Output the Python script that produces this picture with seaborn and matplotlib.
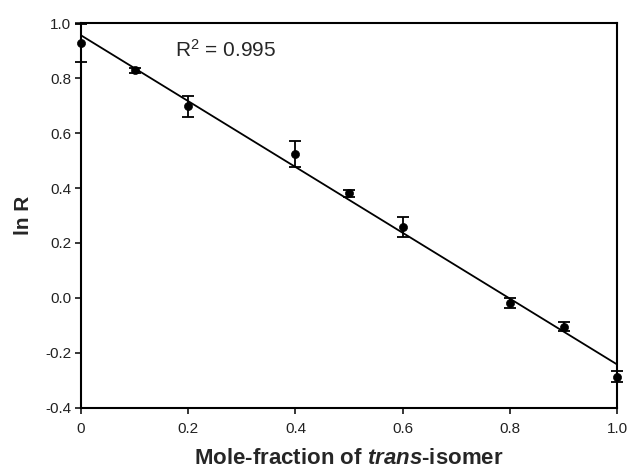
import numpy as np
import pandas as pd
import matplotlib
matplotlib.use("Agg")
import matplotlib.pyplot as plt
import seaborn as sns

# mole fraction of trans-isomer and measured ln R with error
mole_frac = [0.0, 0.1, 0.2, 0.4, 0.5, 0.6, 0.8, 0.9, 1.0]
ln_r = [0.928, 0.828, 0.698, 0.524, 0.381, 0.259, -0.018, -0.104, -0.286]
ln_r_err = [0.070, 0.010, 0.038, 0.047, 0.013, 0.037, 0.018, 0.017, 0.020]
x_ticks = [0, 0.2, 0.4, 0.6, 0.8, 1.0]
x_tick_labels = ["0", "0.2", "0.4", "0.6", "0.8", "1.0"]
y_ticks = [-0.4, -0.2, 0.0, 0.2, 0.4, 0.6, 0.8, 1.0]
r2_text = "R$^2$ = 0.995"


def draw():
    df = pd.DataFrame({"x": mole_frac, "y": ln_r, "err": ln_r_err})

    fig = plt.figure(figsize=(6.33, 4.70), dpi=100)
    ax = fig.add_axes([0.128, 0.132, 0.847, 0.819])

    sns.regplot(data=df, x="x", y="y", ci=None, scatter=False, ax=ax,
                line_kws={"color": "black", "lw": 1.3})
    eb = ax.errorbar(df["x"], df["y"], yerr=df["err"], fmt="none", ecolor="black",
                     elinewidth=1.3, capsize=4, capthick=1.3, zorder=3)
    for art in eb.lines[1] + eb.lines[2]:
        art.set_clip_on(False)
    sns.scatterplot(data=df, x="x", y="y", ax=ax, color="black", s=34,
                    edgecolor="black", zorder=4, clip_on=False)

    ax.set_xlim(0, 1.0)
    ax.set_ylim(-0.4, 1.0)
    ax.set_xticks(x_ticks)
    ax.set_xticklabels(x_tick_labels)
    ax.set_yticks(y_ticks)
    ax.set_yticklabels([f"{v:.1f}" for v in y_ticks])

    for side in ["left", "right", "top", "bottom"]:
        ax.spines[side].set_visible(True)
        ax.spines[side].set_linewidth(1.5)
        ax.spines[side].set_color("black")
    ax.tick_params(direction="out", length=4, width=1.3, labelsize=11,
                   labelcolor="#222222")
    ax.tick_params(axis="x", pad=6)
    ax.tick_params(axis="y", pad=3)

    ax.set_xlabel("Mole-fraction of $\\bfit{trans}$-isomer", fontsize=16,
                  fontweight="bold", labelpad=9)
    ax.set_ylabel("ln R", fontsize=15, fontweight="bold", labelpad=9)

    ax.text(0.175, 0.902, r2_text, fontsize=15, ha="left", va="center")

    fig.savefig("out.png", dpi=100)


if __name__ == "__main__":
    sns.set_style("ticks")
    plt.rcParams["font.family"] = ["Liberation Sans", "DejaVu Sans"]
    plt.rcParams["axes.unicode_minus"] = False
    plt.rcParams["mathtext.fontset"] = "custom"
    plt.rcParams["mathtext.rm"] = "Liberation Sans"
    plt.rcParams["mathtext.it"] = "Liberation Sans:italic"
    plt.rcParams["mathtext.bf"] = "Liberation Sans:bold"
    plt.rcParams["mathtext.bfit"] = "Liberation Sans:bold:italic"
    draw()
